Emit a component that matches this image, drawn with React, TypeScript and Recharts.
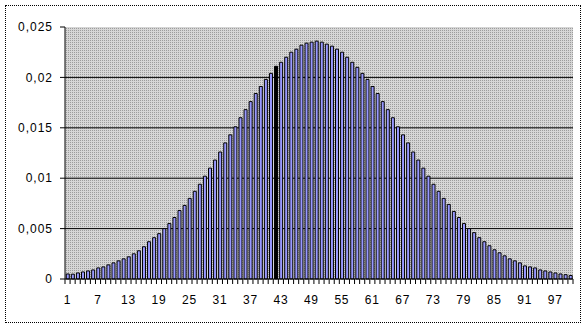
import React from 'react';
import { BarChart, Bar, XAxis, YAxis, CartesianGrid, Cell } from 'recharts';

const categories: number[] = Array.from({ length: 100 }, (_, i) => i + 1);

const probabilities: number[] = [
  0.0005, 0.00048, 0.0006, 0.0007, 0.0008, 0.0009, 0.0011, 0.0012, 0.0014, 0.0016,
  0.0018, 0.002, 0.0022, 0.0025, 0.0028, 0.0032, 0.0037, 0.0041, 0.0045, 0.005,
  0.0055, 0.0061, 0.0068, 0.0073, 0.008, 0.0087, 0.0094, 0.0102, 0.011, 0.0118,
  0.0126, 0.0135, 0.0143, 0.0151, 0.016, 0.0168, 0.0176, 0.0184, 0.0191, 0.0198,
  0.0204, 0.0211, 0.0215, 0.022, 0.0225, 0.0228, 0.0232, 0.0234, 0.0235, 0.0236,
  0.0235, 0.0233, 0.0231, 0.0228, 0.0225, 0.022, 0.0215, 0.021, 0.0204, 0.0198,
  0.0191, 0.0184, 0.0176, 0.0168, 0.016, 0.0151, 0.0143, 0.0135, 0.0126, 0.0118,
  0.011, 0.0102, 0.0094, 0.0087, 0.008, 0.0074, 0.0067, 0.0061, 0.0055, 0.005,
  0.0046, 0.0041, 0.0037, 0.0033, 0.0029, 0.0026, 0.0023, 0.002, 0.0018, 0.0016,
  0.0013, 0.0012, 0.0011, 0.0009, 0.0008, 0.0007, 0.0006, 0.0005, 0.00043, 0.00035,
];

const xTickLabels: number[] = [1, 7, 13, 19, 25, 31, 37, 43, 49, 55, 61, 67, 73, 79, 85, 91, 97];
const yTicks: number[] = [0, 0.005, 0.01, 0.015, 0.02, 0.025];
const gridValues: number[] = [0.005, 0.01, 0.015, 0.02];
const highlightedCategory = 42;

const data = categories.map((c, i) => ({ cat: c, p: probabilities[i] }));

const W = 588;
const H = 329;
const M = { top: 27, right: 15, bottom: 20, left: 5 };
const Y_W = 60;
const PLOT_W = W - M.left - M.right - Y_W;
const FONT = '"Liberation Sans", Arial, sans-serif';

const XTick = (props: any) => {
  const { x, y, payload, index } = props;
  const half = PLOT_W / categories.length / 2;
  const show = xTickLabels.includes(payload.value);
  return (
    <g>
      <line x1={x - half} x2={x - half} y1={y} y2={y + 5} stroke="#000" strokeWidth={1} />
      {index === categories.length - 1 && (
        <line x1={x + half} x2={x + half} y1={y} y2={y + 5} stroke="#000" strokeWidth={1} />
      )}
      {show && (
        <text
          x={x}
          y={y + 25}
          textAnchor="middle"
          fontSize={12}
          fontFamily={FONT}
          fill="#000"
          letterSpacing={0.8}
        >
          {payload.value}
        </text>
      )}
    </g>
  );
};

export default function App() {
  return (
    <div style={{ position: 'absolute', left: 0, top: 0, width: W, height: H, background: '#fff' }}>
      <svg width={0} height={0} style={{ position: 'absolute' }}>
        <defs>
          <pattern id="dots" width="2" height="2" patternUnits="userSpaceOnUse">
            <rect width="2" height="2" fill="#d6d6d6" />
            <rect width="1" height="1" fill="#9c9c9c" />
          </pattern>
        </defs>
      </svg>
      <BarChart width={W} height={H} data={data} margin={M} barCategoryGap="25%">
        <CartesianGrid
          vertical={false}
          horizontalValues={gridValues}
          stroke="#000"
          strokeDasharray=""
          fill="url(#dots)"
          fillOpacity={1}
        />
        <XAxis
          dataKey="cat"
          type="category"
          interval={0}
          height={30}
          tickLine={false}
          tickSize={0}
          tickMargin={0}
          axisLine={{ stroke: '#000' }}
          tick={<XTick />}
        />
        <YAxis
          width={Y_W}
          domain={[0, 0.025]}
          ticks={yTicks}
          interval={0}
          tickSize={5}
          tickMargin={7}
          tickLine={{ stroke: '#000' }}
          axisLine={{ stroke: '#000' }}
          tickFormatter={(v: number) => String(v).replace('.', ',')}
          tick={{ fill: '#000', fontSize: 12, fontFamily: FONT, letterSpacing: 1 }}
        />
        <YAxis
          yAxisId="edge"
          orientation="right"
          width={0}
          domain={[0, 1]}
          tick={false}
          tickLine={false}
          axisLine={{ stroke: '#808080' }}
        />
        <Bar dataKey="p" fill="#9999FF" stroke="#000" strokeWidth={1} isAnimationActive={false}>
          {data.map((d) => (
            <Cell key={d.cat} fill={d.cat === highlightedCategory ? '#000' : '#9999FF'} />
          ))}
        </Bar>
      </BarChart>
      <div
        style={{
          position: 'absolute',
          left: 5,
          top: 5,
          width: 576,
          height: 318,
          border: '1px dotted #000',
          boxSizing: 'border-box',
          pointerEvents: 'none',
        }}
      />
    </div>
  );
}
